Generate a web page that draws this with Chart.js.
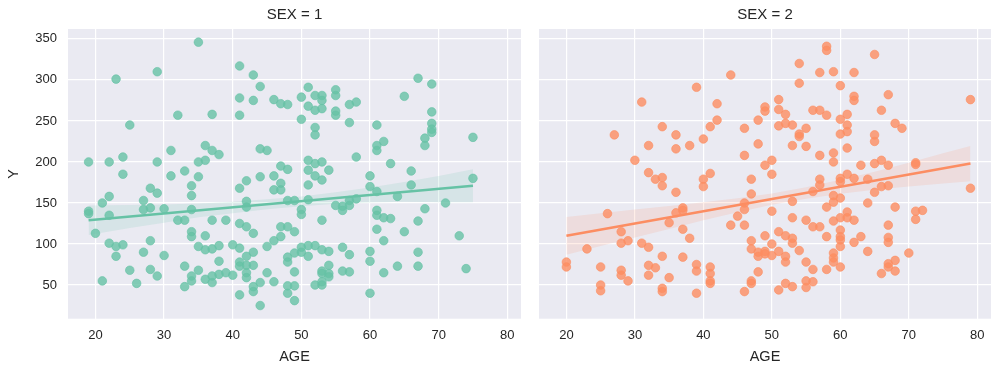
<!DOCTYPE html>
<html>
<head>
<meta charset="utf-8">
<script src="https://cdn.jsdelivr.net/npm/chart.js@4/dist/chart.umd.min.js"></script>
<style>
    body { margin: 0; background: #fff; }
    #wrap { position: relative; width: 1000px; height: 375px; }
    canvas { position: absolute; top: 0; }
</style>
</head>
<body>
<div id="wrap">
    <canvas id="sex1" width="530" height="375" style="left:0px"></canvas>
    <canvas id="sex2" width="470" height="375" style="left:530px"></canvas>
</div>
<script>
// SEX = 1 : AGE / Y 산점도 값
const age1 = [35,23,29,25,32,37,19,22,24,24,29,31,31,33,35,35,36,36,37,38,
    41,43,44,41,43,41,46,47,48,50,51,52,53,53,51,52,53,50,55,55,55,55,57,58,57,52,52,44,45,58,47,48,51,51,52,53,54,42,44,46,52,53,60,
    67,69,65,69,69,69,69,68,68,61,62,61,61,63,66,75,75,
    19,19,21,22,22,20,22,23,24,23,21,25,26,27,27,28,29,28,28,27,28,29,30,30,32,33,34,34,34,34,34,36,37,35,36,37,38,38,33,35,33,34,34,36,37,37,38,
    41,46,47,47,51,42,42,48,49,51,50,50,53,55,56,56,57,57,58,60,39,41,42,43,47,48,49,47,46,45,40,41,43,42,41,41,42,43,39,40,42,42,45,46,44,43,43,41,44,
    50,50,51,51,52,53,54,56,57,48,48,49,49,54,53,53,54,54,56,57,60,60,48,48,49,49,52,53,53,60,
    61,66,64,68,71,61,61,62,63,67,61,65,62,73,67,62,64,67,74];
const y1 = [346,301,310,245,257,258,200,200,206,185,200,214,183,189,200,182,220,202,214,209,
    317,306,292,278,275,257,276,271,270,279,291,281,281,275,268,263,265,252,288,281,262,257,270,273,248,242,233,216,214,206,195,191,202,190,198,200,190,177,182,183,183,178,183,
    302,295,280,261,247,236,240,229,220,245,225,220,214,198,189,230,180,
    140,137,150,158,135,113,101,97,99,85,55,68,52,153,142,168,162,144,104,90,69,61,143,86,129,129,171,159,142,115,109,110,129,97,93,94,98,79,73,68,48,55,61,57,61,53,63,
    168,166,174,166,172,152,145,153,153,154,142,136,129,147,146,141,153,147,155,170,129,125,121,113,121,121,115,109,104,97,99,95,90,85,78,73,74,74,65,62,65,59,65,54,53,48,42,38,25,
    96,90,98,85,98,93,91,96,87,84,78,89,66,74,67,64,64,60,67,66,91,79,49,40,49,31,50,50,54,40,
    164,172,158,143,150,141,135,132,131,128,118,115,104,110,90,65,73,73,70];

// SEX = 2
const age2 = [39,31,27,34,36,32,36,38,30,32,33,34,
    58,58,54,44,57,59,54,60,42,51,49,49,51,52,56,57,58,60,60,42,41,40,46,48,51,52,53,55,54,54,48,53,55,46,57,59,59,50,49,50,41,40,47,57,60,
    65,62,62,62,67,79,66,61,61,61,68,69,65,65,61,63,65,66,67,71,71,61,62,64,
    34,36,26,28,36,37,37,35,37,38,28,29,31,32,23,20,20,25,28,28,29,25,25,34,37,32,33,32,35,34,34,
    40,47,46,46,45,44,46,50,53,53,56,57,55,56,57,58,59,59,60,60,59,60,58,60,60,60,47,47,49,51,52,53,53,50,48,48,49,49,50,51,52,52,54,55,56,58,59,59,59,60,39,39,41,41,41,41,39,48,47,47,46,51,52,53,55,55,56,
    66,67,65,79,64,68,71,72,71,61,61,62,67,60,63,62,67,67,64,70,68,67,67,68,66];
const y2 = [291,273,233,243,233,220,216,220,202,187,179,181,
    341,336,320,306,309,310,296,293,271,276,267,262,264,258,263,263,257,252,234,251,243,228,241,251,244,247,245,241,234,231,222,220,219,208,208,211,200,202,196,185,186,179,179,179,180,
    331,309,280,275,282,276,263,258,245,237,247,241,233,225,217,196,198,202,196,199,197,185,180,179,
    171,163,137,115,138,144,141,126,118,107,101,104,101,96,94,78,72,72,68,62,55,50,43,85,84,74,71,62,59,46,42,
    170,161,150,142,134,123,123,140,152,132,164,172,129,121,121,145,159,151,156,176,128,132,109,117,105,97,104,94,110,115,110,107,101,100,90,85,91,88,86,91,85,78,92,78,69,69,89,83,78,72,75,67,72,64,55,52,40,66,55,52,42,44,52,48,55,47,54,
    170,171,163,168,150,145,140,141,130,139,132,129,123,109,109,102,108,102,91,89,80,76,72,67,64];

// 회귀선과 신뢰구간
const fitAge1 = [19, 75];
const fitY1 = [129, 171];
const bandAge1 = [19, 25, 30, 35, 40, 45, 50, 55, 60, 65, 70, 75];
const bandHi1 = [147, 147.5, 148, 149.5, 151.5, 154.5, 158, 163, 169, 175.5, 183, 191];
const bandLo1 = [111, 119.5, 126, 132.5, 137.5, 142.5, 146, 149, 150.5, 151.5, 151, 151];

const fitAge2 = [20, 79];
const fitY2 = [110, 198];
const bandAge2 = [20, 25, 30, 35, 40, 45, 50, 55, 60, 65, 70, 75, 79];
const bandHi2 = [133, 137.5, 141.9, 146.4, 150.8, 155.8, 161.7, 169.2, 178.2, 188.1, 199.1, 210.6, 219.5];
const bandLo2 = [87, 97.5, 107.9, 118.4, 128.8, 138.8, 147.7, 155.2, 161.2, 166.1, 170.1, 173.6, 176.5];

const xTicks = [20, 30, 40, 50, 60, 70, 80];
const yTicks = [50, 100, 150, 200, 250, 300, 350];

const FONT = "'Liberation Sans', Arial, sans-serif";
const TEXT = '#262626';

function pts(xs, ys) {
    return xs.map((x, i) => ({ x: x, y: ys[i] }));
}

// 플롯 영역 배경색
const panelBg = {
    id: 'panelBg',
    beforeDraw(chart) {
        const a = chart.chartArea;
        const ctx = chart.ctx;
        ctx.save();
        ctx.fillStyle = '#EAEAF2';
        ctx.fillRect(a.left, a.top, a.right - a.left, a.bottom - a.top);
        ctx.restore();
    }
};

function makePanel(id, title, rgb, ages, ys, fitAge, fitY, bandAge, bandHi, bandLo, showY) {
    const ctx = document.getElementById(id).getContext('2d');
    return new Chart(ctx, {
        type: 'scatter',
        data: {
            datasets: [
                {
                    type: 'line', data: pts(fitAge, fitY), order: 0,
                    borderColor: `rgb(${rgb})`, borderWidth: 2.6, pointRadius: 0, fill: false
                },
                {
                    type: 'line', data: pts(bandAge, bandHi), order: 1,
                    borderWidth: 0, pointRadius: 0, fill: '+1',
                    backgroundColor: `rgba(${rgb},0.15)`
                },
                {
                    type: 'line', data: pts(bandAge, bandLo), order: 1,
                    borderWidth: 0, pointRadius: 0, fill: false
                },
                {
                    data: pts(ages, ys), order: 2,
                    backgroundColor: `rgba(${rgb},0.8)`,
                    borderColor: `rgba(${rgb},0.8)`,
                    borderWidth: 0.8, pointRadius: 4.3
                }
            ]
        },
        options: {
            responsive: false,
            animation: false,
            events: [],
            layout: { padding: { left: 0, right: 9, top: 0, bottom: 0 } },
            plugins: {
                legend: { display: false },
                tooltip: { enabled: false },
                title: {
                    display: true, text: title, color: TEXT, fullSize: false,
                    font: { family: FONT, size: 15, weight: 'normal' },
                    padding: { top: 6, bottom: 5 }
                }
            },
            scales: {
                x: {
                    type: 'linear', min: 16, max: 82,
                    afterBuildTicks: s => { s.ticks = xTicks.map(v => ({ value: v })); },
                    afterFit: s => { s.height = 56.3; },
                    grid: { color: '#fff', lineWidth: 1.2, drawTicks: false },
                    border: { display: false },
                    ticks: { color: TEXT, padding: 9, font: { family: FONT, size: 13 } },
                    title: {
                        display: true, text: 'AGE', color: TEXT,
                        font: { family: FONT, size: 14.5 }, padding: { top: 0, bottom: 9.5 }
                    }
                },
                y: {
                    type: 'linear', min: 8.95, max: 362.05,
                    afterBuildTicks: s => { s.ticks = yTicks.map(v => ({ value: v })); },
                    afterFit: s => { s.width = showY ? 68 : 9; },
                    grid: { color: '#fff', lineWidth: 1.2, drawTicks: false },
                    border: { display: false },
                    ticks: { display: showY, color: TEXT, padding: 11, font: { family: FONT, size: 13 } },
                    title: {
                        display: showY, text: 'Y', color: TEXT,
                        font: { family: FONT, size: 14.5 }, padding: { top: 5.5, bottom: 0 }
                    }
                }
            }
        },
        plugins: [panelBg]
    });
}

makePanel('sex1', 'SEX = 1', '102,194,165', age1, y1, fitAge1, fitY1, bandAge1, bandHi1, bandLo1, true);
makePanel('sex2', 'SEX = 2', '252,141,98', age2, y2, fitAge2, fitY2, bandAge2, bandHi2, bandLo2, false);
</script>
</body>
</html>
